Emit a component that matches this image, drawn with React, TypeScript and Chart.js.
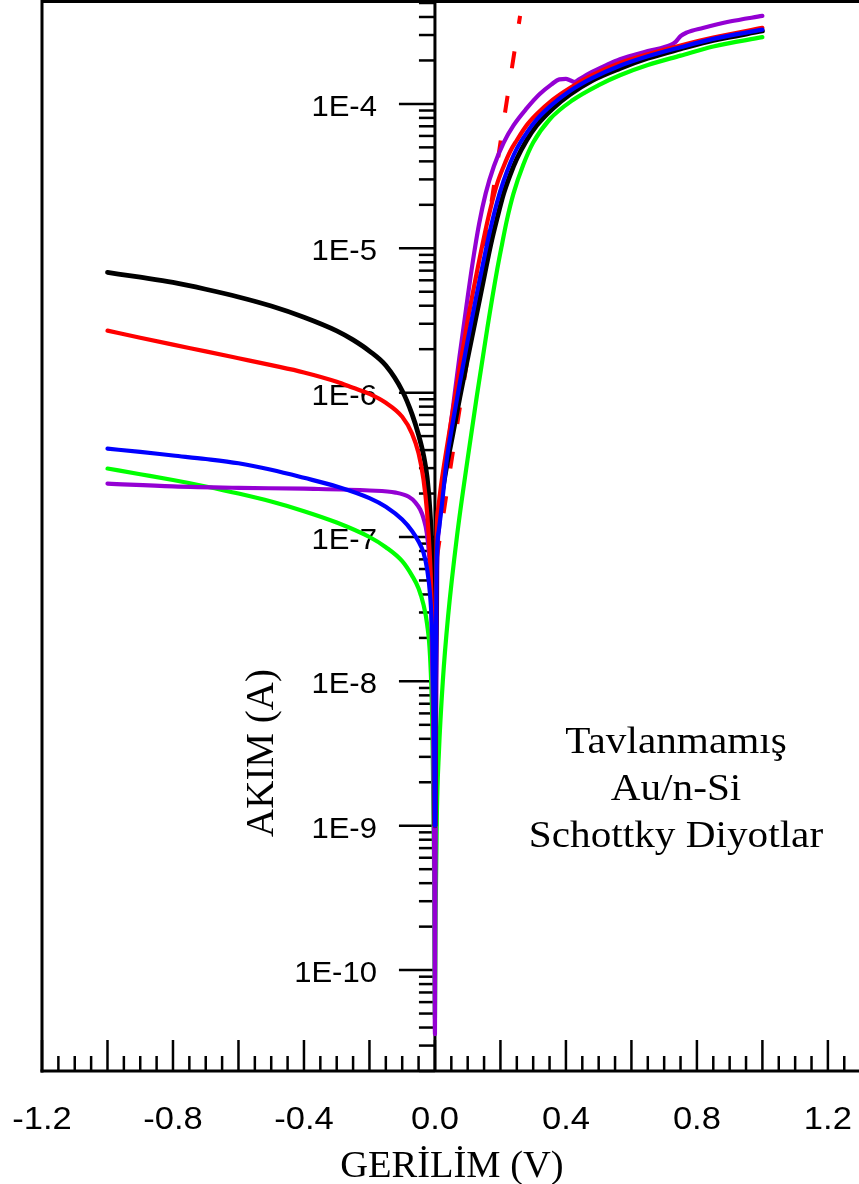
import React, { useEffect, useRef } from "react";
import { Chart, registerables } from "chart.js";

Chart.register(...registerables);

// ---- axis ranges & ticks ----
const X_MIN = -1.2;
const X_MAX = 1.295;
const Y_MIN = 2e-11;
const Y_MAX = 5e-4;
const xLabelValues = [-1.2, -0.8, -0.4, 0, 0.4, 0.8, 1.2];
const xTickLabels = ["-1.2", "-0.8", "-0.4", "0.0", "0.4", "0.8", "1.2"];
const yDecades = [1e-10, 1e-9, 1e-8, 1e-7, 1e-6, 1e-5, 1e-4];
const yTickLabels = ["1E-10", "1E-9", "1E-8", "1E-7", "1E-6", "1E-5", "1E-4"];
const xTitle = "GERİLİM (V)";
const yTitle = "AKIM (A)";
const noteLines = ["Tavlanmamış", "Au/n-Si", "Schottky Diyotlar"];

// ---- series (voltage V, current A) ----
const blackV = [-1, -0.9, -0.8, -0.7, -0.6, -0.5, -0.4, -0.3, -0.25, -0.2, -0.15, -0.1, -0.07, -0.05, -0.035, -0.024, -0.015, -0.008, -0.003, 0,
  0.002, 0.006, 0.012, 0.02, 0.037, 0.055, 0.076, 0.1, 0.125, 0.15, 0.17, 0.19, 0.21, 0.23, 0.25, 0.28, 0.311, 0.36, 0.412, 0.48, 0.565, 0.65, 0.75, 0.85, 1.0];
const blackI = [6.8e-6, 6.3e-6, 5.8e-6, 5.2e-6, 4.6e-6, 3.98e-6, 3.33e-6, 2.68e-6, 2.32e-6, 1.94e-6, 1.54e-6, 1.03e-6, 7.1e-7, 5.1e-7, 3.7e-7, 2.6e-7, 1.5e-7, 6.3e-8, 1e-8, 1e-9,
  1e-8, 1e-7, 1.5e-7, 1.9e-7, 3.2e-7, 5.2e-7, 9.3e-7, 1.74e-6, 3.3e-6, 6.3e-6, 1.05e-5, 1.62e-5, 2.4e-5, 3.24e-5, 4.17e-5, 5.6e-5, 7.1e-5, 9.3e-5, 1.16e-4, 1.45e-4, 1.76e-4, 2.07e-4, 2.4e-4, 2.75e-4, 3.2e-4];

const redV = [-1, -0.9, -0.8, -0.7, -0.6, -0.5, -0.4, -0.3, -0.25, -0.2, -0.15, -0.1, -0.07, -0.05, -0.035, -0.024, -0.015, -0.008, -0.003, 0,
  0.002, 0.005, 0.01, 0.02, 0.035, 0.055, 0.076, 0.1, 0.125, 0.15, 0.17, 0.19, 0.21, 0.23, 0.25, 0.28, 0.311, 0.36, 0.412, 0.48, 0.565, 0.65, 0.75, 0.85, 1.0];
const redI = [2.69e-6, 2.4e-6, 2.15e-6, 1.93e-6, 1.73e-6, 1.55e-6, 1.38e-6, 1.19e-6, 1.08e-6, 9.8e-7, 8.5e-7, 6.8e-7, 5.2e-7, 3.8e-7, 2.5e-7, 1.48e-7, 7e-8, 2.5e-8, 5e-9, 1e-9,
  1e-8, 1e-7, 1.58e-7, 2.4e-7, 4e-7, 7.6e-7, 1.51e-6, 3.16e-6, 6.3e-6, 1.2e-5, 1.9e-5, 2.8e-5, 3.7e-5, 4.7e-5, 5.6e-5, 7.1e-5, 8.5e-5, 1.07e-4, 1.29e-4, 1.58e-4, 1.92e-4, 2.21e-4, 2.54e-4, 2.88e-4, 3.36e-4];

const blueV = [-1, -0.9, -0.8, -0.7, -0.6, -0.5, -0.4, -0.3, -0.2, -0.15, -0.1, -0.07, -0.05, -0.035, -0.024, -0.015, -0.008, -0.003, 0,
  0.002, 0.005, 0.012, 0.02, 0.037, 0.055, 0.076, 0.1, 0.125, 0.15, 0.17, 0.19, 0.21, 0.23, 0.25, 0.28, 0.311, 0.36, 0.412, 0.48, 0.565, 0.65, 0.75, 0.85, 1.0];
const blueI = [4.09e-7, 3.89e-7, 3.67e-7, 3.47e-7, 3.24e-7, 2.92e-7, 2.57e-7, 2.24e-7, 1.86e-7, 1.62e-7, 1.32e-7, 1.1e-7, 9.3e-8, 7.8e-8, 6.0e-8, 4.0e-8, 2.0e-8, 5e-9, 1e-9,
  1e-8, 6.3e-8, 1.12e-7, 1.58e-7, 3.55e-7, 6.3e-7, 1.17e-6, 2.3e-6, 4.5e-6, 8.5e-6, 1.38e-5, 2.1e-5, 2.95e-5, 3.9e-5, 4.9e-5, 6.3e-5, 7.8e-5, 1.0e-4, 1.23e-4, 1.51e-4, 1.84e-4, 2.14e-4, 2.47e-4, 2.82e-4, 3.27e-4];

const greenV = [-1, -0.9, -0.8, -0.7, -0.6, -0.5, -0.4, -0.3, -0.2, -0.15, -0.1, -0.07, -0.05, -0.035, -0.024, -0.015, -0.008, -0.003, 0,
  0.002, 0.006, 0.012, 0.024, 0.04, 0.067, 0.1, 0.128, 0.16, 0.19, 0.205, 0.22, 0.24, 0.27, 0.3, 0.35, 0.42, 0.5, 0.565, 0.65, 0.75, 0.85, 1.0];
const greenI = [2.98e-7, 2.72e-7, 2.48e-7, 2.24e-7, 2.0e-7, 1.76e-7, 1.51e-7, 1.26e-7, 1.0e-7, 8.5e-8, 6.8e-8, 5.4e-8, 4.4e-8, 3.4e-8, 2.5e-8, 1.5e-8, 5e-9, 6.3e-10, 4.6e-11,
  2.5e-10, 1.26e-9, 3.2e-9, 1e-8, 2.8e-8, 1e-7, 3.5e-7, 9.5e-7, 2.8e-6, 7.1e-6, 1.07e-5, 1.58e-5, 2.4e-5, 3.8e-5, 5.4e-5, 7.8e-5, 1.06e-4, 1.35e-4, 1.58e-4, 1.86e-4, 2.16e-4, 2.5e-4, 2.9e-4];

const purpleV = [-1, -0.8, -0.6, -0.4, -0.2, -0.12, -0.08, -0.06, -0.045, -0.035, -0.025, -0.018, -0.012, -0.006, -0.002, 0,
  0.003, 0.007, 0.012, 0.02, 0.037, 0.055, 0.075, 0.095, 0.115, 0.135, 0.155, 0.18, 0.21, 0.24, 0.28, 0.32, 0.355, 0.38, 0.4, 0.412, 0.425, 0.44, 0.47, 0.52, 0.565, 0.65, 0.72, 0.735, 0.75, 0.77, 0.818, 0.9, 1.0];
const purpleI = [2.34e-7, 2.24e-7, 2.19e-7, 2.16e-7, 2.1e-7, 2.03e-7, 1.9e-7, 1.74e-7, 1.55e-7, 1.35e-7, 1.07e-7, 7.6e-8, 4e-8, 6.3e-9, 5e-10, 3.6e-11,
  3.2e-9, 6.3e-8, 1.12e-7, 1.74e-7, 3.8e-7, 7.9e-7, 1.78e-6, 3.8e-6, 7.9e-6, 1.48e-5, 2.4e-5, 3.7e-5, 5.4e-5, 7.1e-5, 9.3e-5, 1.17e-4, 1.36e-4, 1.48e-4, 1.49e-4, 1.46e-4, 1.42e-4, 1.48e-4, 1.62e-4, 1.84e-4, 2.04e-4, 2.32e-4, 2.56e-4, 2.69e-4, 2.95e-4, 3.13e-4, 3.36e-4, 3.72e-4, 4.07e-4];

const fitV = [0.006, 0.05, 0.1, 0.15, 0.2, 0.23, 0.26];
const fitI = [7.2e-8, 3.3e-7, 1.75e-6, 9.5e-6, 5.4e-5, 1.5e-4, 4.07e-4];

const toPts = (v: number[], i: number[]) => v.map((x, k) => ({ x, y: i[k] }));

function stretchedText(ctx: CanvasRenderingContext2D, text: string, x: number, y: number, sx: number) {
  ctx.save();
  ctx.translate(x, y);
  ctx.scale(sx, 1);
  ctx.fillText(text, 0, 0);
  ctx.restore();
}

const axesPlugin = {
  id: "customAxes",
  beforeDatasetsDraw(chart: any) {
    const { ctx, chartArea } = chart;
    const xs = chart.scales.x;
    const ys = chart.scales.y;
    const top = chartArea.top;
    const bottom = chartArea.bottom;
    const left = xs.getPixelForValue(X_MIN);
    const right = chartArea.right;
    const x0 = xs.getPixelForValue(0);
    ctx.save();
    ctx.strokeStyle = "#000";
    ctx.fillStyle = "#000";
    ctx.lineCap = "butt";

    // frame lines (left and top)
    ctx.lineWidth = 3;
    ctx.beginPath();
    ctx.moveTo(left, bottom + 1.5);
    ctx.lineTo(left, top - 1.5);
    ctx.lineTo(right + 5, top - 1.5);
    ctx.stroke();
    // bottom axis
    ctx.beginPath();
    ctx.moveTo(left - 1.5, bottom);
    ctx.lineTo(right + 5, bottom);
    ctx.stroke();
    // vertical axis at V = 0
    ctx.beginPath();
    ctx.moveTo(x0, top);
    ctx.lineTo(x0, bottom);
    ctx.stroke();

    // bottom ticks (inward)
    ctx.lineWidth = 2.5;
    for (let k = 0; k <= 52; k++) {
      const v = X_MIN + k * 0.05;
      if (v > X_MAX + 1e-9) break;
      const px = xs.getPixelForValue(v);
      const major = k % 4 === 0;
      ctx.beginPath();
      ctx.moveTo(px, bottom);
      ctx.lineTo(px, bottom - (major ? 31 : 15));
      ctx.stroke();
    }

    // y ticks (to the left of the V=0 axis)
    const decadeBases = [1e-11, ...yDecades];
    decadeBases.forEach((base) => {
      for (let m = 1; m <= 9; m++) {
        const value = base * m;
        if (value < Y_MIN * 0.9999 || value > Y_MAX * 1.0001) continue;
        const py = ys.getPixelForValue(value);
        const len = m === 1 ? 36 : 16;
        ctx.beginPath();
        ctx.moveTo(x0, py);
        ctx.lineTo(x0 - len, py);
        ctx.stroke();
      }
    });

    // y tick labels
    ctx.font = '29px "Liberation Sans", Arial, sans-serif';
    ctx.textAlign = "right";
    ctx.textBaseline = "alphabetic";
    yDecades.forEach((val, k) => {
      const py = ys.getPixelForValue(val);
      stretchedText(ctx, yTickLabels[k], x0 - 58, py + 12, 1.07);
    });

    // x tick labels
    ctx.font = '32px "Liberation Sans", Arial, sans-serif';
    ctx.textAlign = "center";
    xLabelValues.forEach((val, k) => {
      const px = xs.getPixelForValue(val);
      stretchedText(ctx, xTickLabels[k], px, bottom + 58, 1.08);
    });

    // x axis title
    ctx.font = '37px "Liberation Serif", "Times New Roman", serif';
    ctx.textAlign = "center";
    stretchedText(ctx, xTitle, x0 + 17, bottom + 106, 1.04);

    // y axis title (rotated)
    ctx.save();
    ctx.translate(273, 753);
    ctx.rotate(-Math.PI / 2);
    ctx.font = '39px "Liberation Serif", "Times New Roman", serif';
    ctx.fillText(yTitle, 0, 0);
    ctx.restore();

    // annotation
    ctx.font = '38px "Liberation Serif", "Times New Roman", serif';
    ctx.textAlign = "center";
    const noteX = 676;
    const baseY = [753, 800, 847];
    noteLines.forEach((t, k) => stretchedText(ctx, t, noteX, baseY[k], 1.085));

    ctx.restore();
  },
};

export default function App() {
  const ref = useRef<HTMLCanvasElement | null>(null);
  useEffect(() => {
    if (!ref.current) return;
    const common = {
      pointRadius: 0,
      pointHoverRadius: 0,
      fill: false,
      cubicInterpolationMode: "monotone" as const,
      borderCapStyle: "round" as const,
      borderJoinStyle: "round" as const,
    };
    const chart = new Chart(ref.current, {
      type: "line",
      data: {
        datasets: [
          { ...common, label: "blue", data: toPts(blueV, blueI), borderColor: "#0000ff", borderWidth: 4.2 },
          { ...common, label: "red", data: toPts(redV, redI), borderColor: "#ff0000", borderWidth: 4.2 },
          { ...common, label: "black", data: toPts(blackV, blackI), borderColor: "#000000", borderWidth: 4.8 },
          { ...common, label: "purple", data: toPts(purpleV, purpleI), borderColor: "#9400d3", borderWidth: 4.2 },
          { ...common, label: "green", data: toPts(greenV, greenI), borderColor: "#00ff00", borderWidth: 4.2 },
          { ...common, label: "fit", data: toPts(fitV, fitI), borderColor: "#ff0000", borderWidth: 4, borderDash: [17, 28], borderCapStyle: "butt" as const },
        ],
      },
      options: {
        animation: false,
        responsive: false,
        devicePixelRatio: 1,
        layout: { padding: { left: 42, right: 0, top: 3, bottom: 113 } },
        plugins: { legend: { display: false }, tooltip: { enabled: false } },
        events: [],
        scales: {
          x: { type: "linear", min: X_MIN, max: X_MAX, display: false },
          y: { type: "logarithmic", min: Y_MIN, max: Y_MAX, display: false },
        },
      },
      plugins: [axesPlugin],
    });
    return () => chart.destroy();
  }, []);
  return (
    <div style={{ position: "absolute", left: 0, top: 0, width: 859, height: 1184, overflow: "hidden", background: "#fff" }}>
      <canvas ref={ref} width={859} height={1184} style={{ display: "block" }} />
    </div>
  );
}
